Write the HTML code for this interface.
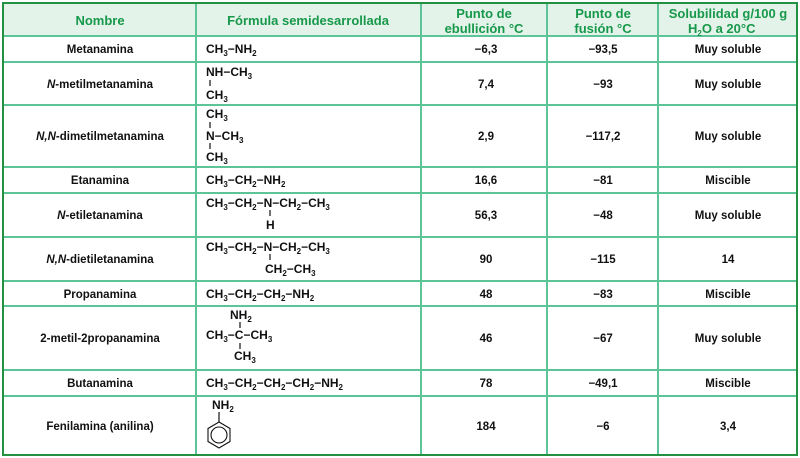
<!DOCTYPE html>
<html><head><meta charset="utf-8"><style>
html,body{margin:0;padding:0;background:#fff;}
svg{display:block;font-family:"Liberation Sans",sans-serif;font-weight:bold;}
.h{fill:#17984a;font-size:13px;}
.t{fill:#111;font-size:11.5px;}
.f{fill:#111;font-size:12px;}
</style></head><body>
<svg id="tbl" width="800" height="458" viewBox="0 0 800 458">
<rect x="3" y="3" width="794" height="33" fill="#e3f3ea"/>
<g id="lines" stroke="#5cc497" stroke-width="2">
<line x1="3" y1="36" x2="797" y2="36"/><line x1="3" y1="62" x2="797" y2="62"/><line x1="3" y1="105" x2="797" y2="105"/>
<line x1="3" y1="167" x2="797" y2="167"/><line x1="3" y1="193" x2="797" y2="193"/><line x1="3" y1="237" x2="797" y2="237"/>
<line x1="3" y1="281" x2="797" y2="281"/><line x1="3" y1="306" x2="797" y2="306"/><line x1="3" y1="370" x2="797" y2="370"/>
<line x1="3" y1="396" x2="797" y2="396"/>
<line x1="196" y1="3" x2="196" y2="455"/><line x1="421" y1="3" x2="421" y2="455"/><line x1="547" y1="3" x2="547" y2="455"/><line x1="658" y1="3" x2="658" y2="455"/>
</g>
<rect x="3" y="3" width="794" height="452" fill="none" stroke="#23913f" stroke-width="2"/>
<g class="h" text-anchor="middle">
<text x="100" y="25">Nombre</text>
<text x="308" y="25">Fórmula semidesarrollada</text>
<text x="484" y="18"><tspan x="484">Punto de</tspan><tspan x="484" dy="15">ebullición °C</tspan></text>
<text x="603" y="18"><tspan x="603">Punto de</tspan><tspan x="603" dy="15">fusión °C</tspan></text>
<text x="728" y="18"><tspan x="728">Solubilidad g/100 g</tspan></text>
<text x="688" y="33" text-anchor="start">H<tspan font-size="8" dy="3">2</tspan><tspan dy="-3">O a 20°C</tspan></text>
</g>
<g id="body"></g>
<g stroke="#111" stroke-width="1.2">
<line x1="210" y1="80" x2="210" y2="86"/>
<line x1="210" y1="122" x2="210" y2="128"/><line x1="210" y1="143" x2="210" y2="149"/>
<line x1="270" y1="210" x2="270" y2="216"/>
<line x1="270" y1="254" x2="270" y2="260"/>
<line x1="240" y1="322" x2="240" y2="328"/><line x1="240" y1="343" x2="240" y2="349"/>
<line x1="219" y1="412" x2="219" y2="422"/>
</g>
<g fill="none" stroke="#111" stroke-width="1.1">
<polygon points="219,422 230,428.5 230,441.5 219,448 208,441.5 208,428.5"/>
<circle cx="219" cy="435" r="8"/>
</g>
</svg>
<script>
const names=["Metanamina","*N*-metilmetanamina","*N,N*-dimetilmetanamina","Etanamina","*N*-etiletanamina","*N,N*-dietiletanamina","Propanamina","2-metil-2propanamina","Butanamina","Fenilamina (anilina)"];
const boiling=["−6,3","7,4","2,9","16,6","56,3","90","48","46","78","184"];
const melting=["−93,5","−93","−117,2","−81","−48","−115","−83","−67","−49,1","−6"];
const solubility=["Muy soluble","Muy soluble","Muy soluble","Miscible","Muy soluble","14","Miscible","Muy soluble","Miscible","3,4"];
const rowMid=[53,88,140,184,219,263,298,342,387,430];
const formulas=[
 [[206,53,"CH_3−NH_2"]],
 [[206,76,"NH−CH_3"],[206,99,"CH_3"]],
 [[206,118,"CH_3"],[206,140,"N−CH_3"],[206,161,"CH_3"]],
 [[206,184,"CH_3−CH_2−NH_2"]],
 [[206,207,"CH_3−CH_2−N−CH_2−CH_3"],[266,229,"H"]],
 [[206,251,"CH_3−CH_2−N−CH_2−CH_3"],[265,273,"CH_2−CH_3"]],
 [[206,298,"CH_3−CH_2−CH_2−NH_2"]],
 [[230,319,"NH_2"],[206,339,"CH_3−C−CH_3"],[234,360,"CH_3"]],
 [[206,387,"CH_3−CH_2−CH_2−CH_2−NH_2"]],
 [[212,409,"NH_2"]]
];
const NS="http://www.w3.org/2000/svg";
const body=document.getElementById('body');
function mk(tag,attrs){const e=document.createElementNS(NS,tag);for(const k in attrs)e.setAttribute(k,attrs[k]);return e;}
names.forEach((n,i)=>{
 const y=rowMid[i];
 const t=mk('text',{x:100,y:y,'text-anchor':'middle',class:'t'});
 
 
 n.split('*').forEach((p,j)=>{if(!p)return;const s=mk('tspan',{});if(j%2==1)s.setAttribute('font-style','italic');s.textContent=p;t.appendChild(s);});
 body.appendChild(t);
 const b=mk('text',{x:486,y:y,'text-anchor':'middle',class:'t'});b.textContent=boiling[i];
 
 
 body.appendChild(b);
 const m=mk('text',{x:603,y:y,'text-anchor':'middle',class:'t'});m.textContent=melting[i];
 
 
 body.appendChild(m);
 const so=mk('text',{x:728,y:y,'text-anchor':'middle',class:'t'});so.textContent=solubility[i];
 
 
 body.appendChild(so);
 formulas[i].forEach(([x,yy,str])=>{
  const f=mk('text',{x:x,y:yy,class:'f'});
  
  
  str.split(/(_\d)/).forEach(p=>{
   if(!p)return;
   if(p[0]=='_'){const s=mk('tspan',{'font-size':'8',dy:'3'});s.textContent=p[1];f.appendChild(s);const r=mk('tspan',{dy:'-3'});r.textContent='\u200b';f.appendChild(r);}
   else{const s=mk('tspan',{});s.textContent=p;f.appendChild(s);}
  });
  body.appendChild(f);
 });
});
</script>
</body></html>
